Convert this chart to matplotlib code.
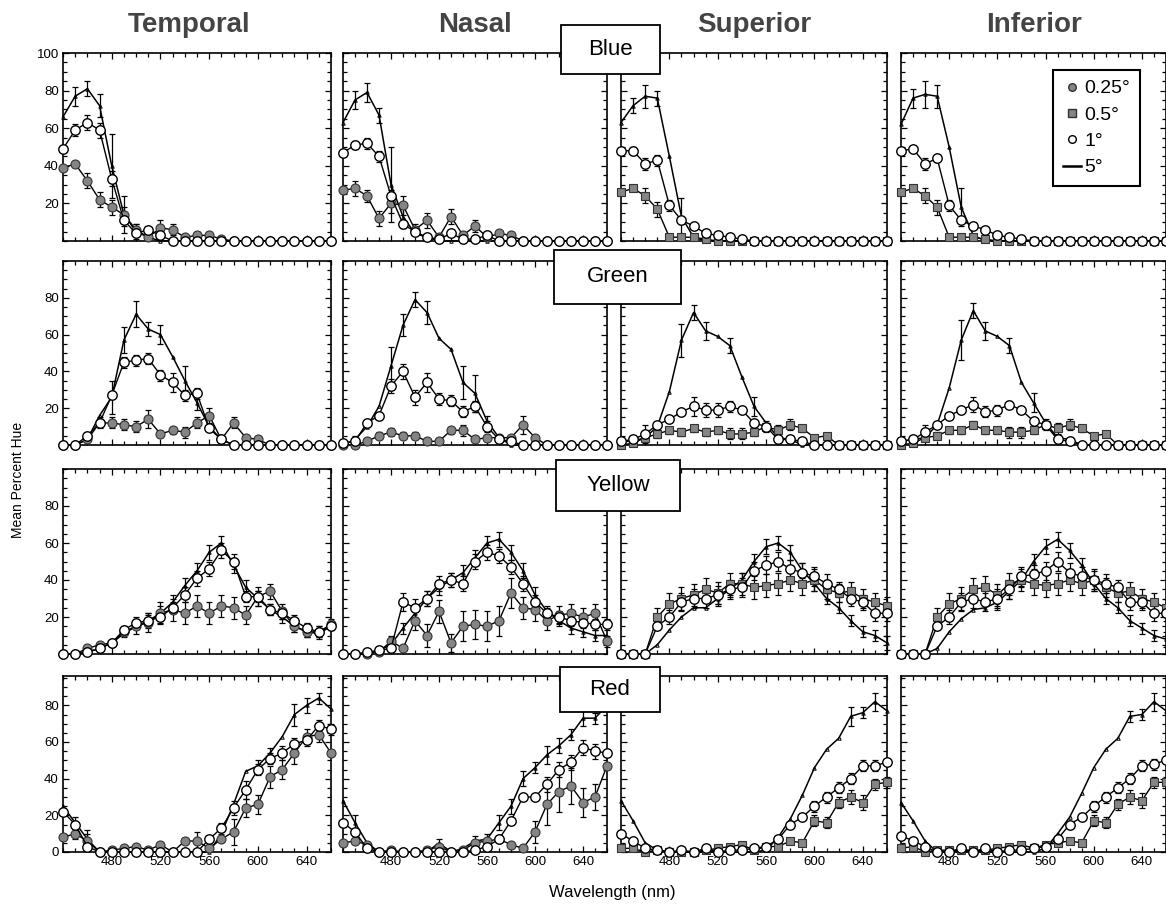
"""Hue scaling panels: mean percent hue vs wavelength for four retinal locations"""

import numpy as np
import matplotlib.pyplot as plt
from matplotlib.lines import Line2D
from matplotlib.patches import Rectangle
from matplotlib.ticker import FixedLocator, MultipleLocator

plt.rcParams['font.family'] = ['Liberation Sans', 'DejaVu Sans']

wavelength = [440, 450, 460, 470, 480, 490, 500, 510, 520, 530, 540, 550,
              560, 570, 580, 590, 600, 610, 620, 630, 640, 650, 660]
regions = ['Temporal', 'Nasal', 'Superior', 'Inferior']
hues = ['Blue', 'Green', 'Yellow', 'Red']
legend_labels = ['0.25°', '0.5°', '1°', '5°']

# ---- Blue ----
blue_temporal_5 = [66, 77, 81, 72, 40, 14, 5, 2, 0, 0, 0, 0, 0, 0, 0, 0, 0, 0, 0, 0, 0, 0, 0]
blue_temporal_5_err = [0, 5, 4, 6, 17, 10, 4, 0, 0, 0, 0, 0, 0, 0, 0, 0, 0, 0, 0, 0, 0, 0, 0]
blue_temporal_1 = [49, 59, 63, 59, 33, 11, 4, 6, 3, 0, 0, 0, 0, 0, 0, 0, 0, 0, 0, 0, 0, 0, 0]
blue_temporal_1_err = [0, 3, 4, 4, 4, 3, 0, 0, 0, 0, 0, 0, 0, 0, 0, 0, 0, 0, 0, 0, 0, 0, 0]
blue_temporal_s = [39, 41, 32, 22, 18, 14, 6, 2, 7, 6, 2, 3, 3, 1, 0, 0, 0, 0, 0, 0, 0, 0, 0]
blue_temporal_s_err = [0, 0, 4, 4, 4, 4, 3, 0, 4, 3, 0, 2, 2, 0, 0, 0, 0, 0, 0, 0, 0, 0, 0]

blue_nasal_5 = [63, 75, 79, 67, 30, 13, 4, 2, 0, 0, 0, 0, 0, 0, 0, 0, 0, 0, 0, 0, 0, 0, 0]
blue_nasal_5_err = [0, 5, 5, 4, 20, 6, 0, 0, 0, 0, 0, 0, 0, 0, 0, 0, 0, 0, 0, 0, 0, 0, 0]
blue_nasal_1 = [47, 51, 52, 45, 24, 9, 5, 2, 1, 4, 1, 1, 3, 0, 0, 0, 0, 0, 0, 0, 0, 0, 0]
blue_nasal_1_err = [0, 2, 3, 3, 3, 0, 0, 0, 0, 0, 0, 0, 0, 0, 0, 0, 0, 0, 0, 0, 0, 0, 0]
blue_nasal_s = [27, 28, 24, 12, 20, 19, 6, 11, 2, 13, 3, 8, 2, 4, 3, 0, 0, 0, 0, 0, 0, 0, 0]
blue_nasal_s_err = [0, 4, 3, 4, 5, 5, 3, 4, 0, 4, 0, 3, 0, 0, 0, 0, 0, 0, 0, 0, 0, 0, 0]

blue_superior_5 = [63, 72, 77, 76, 45, 13, 2, 0, 0, 0, 0, 0, 0, 0, 0, 0, 0, 0, 0, 0, 0, 0, 0]
blue_superior_5_err = [0, 4, 6, 4, 0, 10, 0, 0, 0, 0, 0, 0, 0, 0, 0, 0, 0, 0, 0, 0, 0, 0, 0]
blue_superior_1 = [48, 48, 41, 43, 19, 11, 8, 4, 3, 2, 1, 0, 0, 0, 0, 0, 0, 0, 0, 0, 0, 0, 0]
blue_superior_1_err = [0, 2, 3, 3, 3, 2, 0, 0, 0, 0, 0, 0, 0, 0, 0, 0, 0, 0, 0, 0, 0, 0, 0]
blue_superior_s = [26, 28, 24, 17, 2, 2, 2, 1, 0, 0, 0, 0, 0, 0, 0, 0, 0, 0, 0, 0, 0, 0, 0]
blue_superior_s_err = [0, 0, 4, 4, 0, 0, 0, 0, 0, 0, 0, 0, 0, 0, 0, 0, 0, 0, 0, 0, 0, 0, 0]

blue_inferior_5 = [62, 76, 78, 77, 50, 18, 3, 0, 0, 0, 0, 0, 0, 0, 0, 0, 0, 0, 0, 0, 0, 0, 0]
blue_inferior_5_err = [0, 5, 7, 6, 0, 10, 0, 0, 0, 0, 0, 0, 0, 0, 0, 0, 0, 0, 0, 0, 0, 0, 0]
blue_inferior_1 = [48, 49, 41, 44, 19, 11, 8, 6, 3, 2, 1, 0, 0, 0, 0, 0, 0, 0, 0, 0, 0, 0, 0]
blue_inferior_1_err = [0, 0, 3, 2, 3, 0, 0, 0, 0, 0, 0, 0, 0, 0, 0, 0, 0, 0, 0, 0, 0, 0, 0]
blue_inferior_s = [26, 28, 24, 18, 2, 2, 2, 1, 0, 0, 0, 0, 0, 0, 0, 0, 0, 0, 0, 0, 0, 0, 0]
blue_inferior_s_err = [0, 0, 4, 4, 0, 0, 0, 0, 0, 0, 0, 0, 0, 0, 0, 0, 0, 0, 0, 0, 0, 0, 0]

# ---- Green ----
green_temporal_5 = [0, 0, 3, 16, 26, 57, 71, 63, 60, 48, 35, 23, 10, 3, 0, 0, 0, 0, 0, 0, 0, 0, 0]
green_temporal_5_err = [0, 0, 0, 0, 9, 7, 7, 4, 5, 0, 8, 4, 0, 0, 0, 0, 0, 0, 0, 0, 0, 0, 0]
green_temporal_1 = [0, 0, 5, 12, 27, 45, 46, 47, 38, 34, 27, 28, 9, 3, 0, 0, 0, 0, 0, 0, 0, 0, 0]
green_temporal_1_err = [0, 0, 0, 0, 0, 3, 3, 3, 3, 5, 3, 3, 0, 0, 0, 0, 0, 0, 0, 0, 0, 0, 0]
green_temporal_s = [0, 0, 3, 12, 12, 11, 10, 14, 6, 8, 7, 12, 16, 3, 12, 4, 3, 0, 0, 0, 0, 0, 0]
green_temporal_s_err = [0, 0, 0, 3, 3, 3, 3, 5, 0, 2, 3, 3, 4, 0, 3, 0, 0, 0, 0, 0, 0, 0, 0]

green_nasal_5 = [0, 3, 10, 21, 43, 65, 79, 72, 58, 52, 34, 28, 13, 4, 0, 0, 0, 0, 0, 0, 0, 0, 0]
green_nasal_5_err = [0, 2, 0, 0, 10, 6, 4, 6, 0, 0, 9, 10, 3, 0, 0, 0, 0, 0, 0, 0, 0, 0, 0]
green_nasal_1 = [1, 2, 12, 16, 32, 40, 26, 34, 25, 24, 18, 21, 10, 3, 2, 0, 0, 0, 0, 0, 0, 0, 0]
green_nasal_1_err = [0, 0, 0, 0, 4, 4, 4, 5, 3, 3, 3, 3, 3, 0, 0, 0, 0, 0, 0, 0, 0, 0, 0]
green_nasal_s = [0, 0, 2, 5, 7, 5, 5, 2, 2, 8, 8, 3, 4, 4, 4, 11, 4, 0, 0, 0, 0, 0, 0]
green_nasal_s_err = [0, 0, 0, 2, 2, 2, 2, 0, 0, 2, 3, 0, 0, 0, 0, 5, 0, 0, 0, 0, 0, 0, 0]

green_superior_5 = [2, 2, 4, 10, 29, 57, 72, 62, 59, 54, 37, 21, 12, 4, 3, 0, 0, 0, 0, 0, 0, 0, 0]
green_superior_5_err = [0, 0, 0, 0, 0, 9, 4, 5, 0, 4, 0, 5, 0, 0, 0, 0, 0, 0, 0, 0, 0, 0, 0]
green_superior_1 = [2, 3, 6, 11, 14, 18, 21, 19, 19, 21, 19, 12, 10, 3, 3, 2, 0, 0, 0, 0, 0, 0, 0]
green_superior_1_err = [0, 0, 5, 0, 0, 0, 5, 4, 4, 3, 0, 0, 0, 0, 0, 0, 0, 0, 0, 0, 0, 0, 0]
green_superior_s = [0, 1, 4, 6, 8, 7, 9, 7, 8, 6, 6, 7, 10, 8, 11, 9, 4, 5, 0, 0, 0, 0, 0]
green_superior_s_err = [0, 0, 0, 2, 2, 2, 2, 2, 2, 3, 3, 2, 3, 3, 3, 2, 0, 0, 0, 0, 0, 0, 0]

green_inferior_5 = [2, 3, 4, 11, 31, 57, 73, 62, 59, 54, 34, 23, 12, 4, 3, 0, 0, 0, 0, 0, 0, 0, 0]
green_inferior_5_err = [0, 0, 0, 0, 0, 11, 4, 5, 0, 4, 0, 5, 0, 0, 0, 0, 0, 0, 0, 0, 0, 0, 0]
green_inferior_1 = [2, 3, 7, 11, 16, 19, 22, 18, 19, 22, 19, 13, 11, 3, 2, 0, 0, 0, 0, 0, 0, 0, 0]
green_inferior_1_err = [0, 0, 4, 0, 0, 0, 4, 3, 3, 2, 0, 0, 0, 0, 0, 0, 0, 0, 0, 0, 0, 0, 0]
green_inferior_s = [0, 1, 4, 5, 8, 8, 11, 8, 8, 7, 7, 8, 11, 9, 11, 9, 5, 6, 0, 0, 0, 0, 0]
green_inferior_s_err = [0, 0, 0, 2, 2, 2, 2, 2, 2, 3, 3, 2, 3, 3, 3, 2, 0, 0, 0, 0, 0, 0, 0]

# ---- Yellow ----
yellow_temporal_5 = [0, 0, 1, 3, 6, 11, 15, 18, 22, 28, 37, 45, 55, 60, 48, 36, 30, 24, 20, 15, 12, 11, 15]
yellow_temporal_5_err = [0, 0, 0, 0, 0, 0, 0, 4, 4, 4, 4, 4, 4, 4, 4, 4, 4, 3, 3, 3, 3, 3, 0]
yellow_temporal_1 = [0, 0, 1, 3, 6, 13, 17, 18, 20, 25, 32, 41, 46, 56, 50, 31, 31, 24, 22, 18, 14, 12, 15]
yellow_temporal_1_err = [0, 0, 0, 0, 0, 0, 3, 3, 3, 3, 4, 4, 4, 4, 4, 3, 3, 3, 3, 3, 3, 3, 0]
yellow_temporal_s = [0, 0, 3, 5, 6, 12, 15, 17, 22, 24, 22, 26, 22, 26, 25, 21, 31, 34, 23, 15, 12, 12, 16]
yellow_temporal_s_err = [0, 0, 0, 0, 0, 3, 4, 5, 6, 6, 6, 6, 6, 6, 6, 5, 5, 4, 4, 3, 3, 3, 3]

yellow_nasal_5 = [0, 0, 0, 2, 5, 14, 22, 30, 36, 40, 44, 52, 60, 62, 55, 45, 32, 23, 18, 14, 12, 10, 10]
yellow_nasal_5_err = [0, 0, 0, 0, 0, 3, 4, 4, 4, 4, 4, 4, 4, 4, 4, 4, 4, 3, 3, 3, 3, 3, 0]
yellow_nasal_1 = [0, 0, 1, 2, 3, 28, 25, 30, 38, 40, 38, 50, 55, 53, 47, 38, 28, 22, 20, 18, 17, 16, 16]
yellow_nasal_1_err = [0, 0, 0, 0, 0, 5, 5, 4, 4, 4, 4, 4, 4, 4, 4, 4, 4, 3, 3, 3, 3, 3, 3]
yellow_nasal_s = [0, 0, 0, 1, 7, 3, 18, 10, 23, 6, 15, 16, 15, 18, 33, 25, 24, 18, 21, 22, 20, 22, 7]
yellow_nasal_s_err = [0, 0, 0, 0, 3, 0, 5, 6, 6, 5, 8, 8, 8, 8, 8, 6, 6, 5, 5, 5, 5, 5, 3]

yellow_superior_5 = [0, 0, 0, 5, 13, 20, 25, 25, 30, 35, 40, 50, 58, 60, 55, 45, 38, 30, 25, 18, 12, 10, 6]
yellow_superior_5_err = [0, 0, 0, 0, 0, 0, 0, 0, 4, 4, 4, 4, 4, 4, 4, 4, 4, 3, 3, 3, 3, 3, 4]
yellow_superior_1 = [0, 0, 0, 15, 20, 28, 30, 30, 32, 35, 36, 45, 48, 50, 46, 44, 42, 38, 35, 30, 28, 22, 22]
yellow_superior_1_err = [0, 0, 0, 0, 4, 5, 5, 5, 5, 5, 5, 5, 5, 5, 5, 5, 5, 5, 4, 4, 4, 4, 4]
yellow_superior_s = [0, 0, 0, 20, 27, 30, 32, 35, 33, 38, 38, 36, 37, 38, 40, 38, 40, 35, 33, 34, 30, 28, 26]
yellow_superior_s_err = [0, 0, 0, 5, 6, 6, 6, 6, 6, 6, 6, 6, 6, 6, 6, 6, 6, 5, 5, 5, 5, 5, 5]

yellow_inferior_5 = [0, 0, 0, 3, 12, 19, 24, 25, 28, 34, 40, 50, 58, 62, 56, 48, 38, 30, 25, 18, 14, 10, 8]
yellow_inferior_5_err = [0, 0, 0, 0, 0, 0, 0, 0, 4, 4, 4, 4, 4, 4, 4, 4, 4, 3, 3, 3, 3, 3, 4]
yellow_inferior_1 = [0, 0, 0, 15, 20, 28, 30, 28, 30, 35, 42, 43, 45, 50, 44, 42, 40, 38, 36, 28, 28, 22, 22]
yellow_inferior_1_err = [0, 0, 0, 0, 4, 5, 5, 5, 5, 5, 5, 5, 5, 5, 5, 5, 5, 5, 4, 4, 4, 4, 4]
yellow_inferior_s = [0, 0, 0, 20, 27, 30, 35, 36, 32, 38, 40, 38, 37, 38, 40, 38, 40, 36, 33, 34, 30, 28, 25]
yellow_inferior_s_err = [0, 0, 0, 5, 6, 6, 6, 6, 6, 6, 6, 6, 6, 6, 6, 6, 6, 5, 5, 5, 5, 5, 5]

# ---- Red ----
red_temporal_5 = [25, 16, 7, 0, 0, 0, 0, 0, 0, 0, 0, 0, 0, 10, 26, 44, 47, 54, 63, 75, 80, 84, 78]
red_temporal_5_err = [0, 3, 5, 0, 0, 0, 0, 0, 0, 0, 0, 0, 0, 4, 0, 0, 3, 3, 0, 6, 4, 3, 0]
red_temporal_1 = [22, 15, 3, 0, 0, 0, 0, 0, 0, 0, 0, 0, 7, 13, 24, 34, 45, 51, 54, 59, 61, 69, 67]
red_temporal_1_err = [0, 0, 0, 0, 0, 0, 0, 0, 0, 0, 0, 0, 0, 3, 4, 5, 3, 3, 4, 3, 3, 3, 3]
red_temporal_s = [8, 10, 6, 0, 1, 2, 3, 1, 4, 0, 6, 6, 2, 7, 11, 24, 26, 41, 45, 54, 63, 64, 54]
red_temporal_s_err = [0, 3, 4, 0, 0, 0, 0, 0, 0, 0, 0, 5, 0, 0, 7, 5, 5, 6, 5, 6, 4, 4, 0]

red_nasal_5 = [28, 16, 5, 0, 0, 0, 0, 0, 5, 0, 2, 6, 7, 16, 25, 40, 46, 53, 58, 64, 73, 73, 80]
red_nasal_5_err = [0, 4, 0, 0, 0, 0, 0, 0, 2, 0, 0, 3, 3, 4, 4, 4, 3, 5, 4, 3, 4, 3, 0]
red_nasal_1 = [16, 11, 2, 0, 0, 0, 0, 0, 0, 0, 0, 1, 3, 7, 17, 30, 30, 37, 45, 49, 57, 55, 54]
red_nasal_1_err = [0, 0, 0, 0, 0, 0, 0, 0, 0, 0, 0, 0, 0, 0, 0, 0, 0, 4, 4, 4, 4, 4, 0]
red_nasal_s = [5, 6, 4, 0, 1, 0, 0, 1, 3, 0, 1, 5, 6, 7, 4, 2, 11, 26, 33, 36, 27, 30, 47]
red_nasal_s_err = [0, 0, 0, 0, 0, 0, 0, 0, 0, 0, 0, 0, 0, 0, 0, 0, 6, 11, 11, 10, 8, 7, 0]

red_superior_5 = [28, 17, 5, 1, 0, 0, 0, 0, 0, 0, 0, 0, 1, 8, 18, 31, 46, 56, 62, 74, 76, 82, 77]
red_superior_5_err = [0, 0, 0, 0, 0, 0, 0, 0, 0, 0, 0, 0, 0, 0, 0, 0, 0, 0, 0, 5, 3, 5, 0]
red_superior_1 = [10, 6, 2, 1, 0, 1, 0, 2, 0, 1, 1, 2, 3, 7, 15, 19, 25, 30, 35, 40, 47, 47, 49]
red_superior_1_err = [0, 0, 0, 0, 0, 0, 0, 0, 0, 0, 0, 0, 0, 0, 0, 0, 3, 3, 3, 3, 3, 3, 0]
red_superior_s = [2, 2, 0, 1, 0, 0, 0, 1, 2, 3, 4, 1, 3, 3, 6, 5, 17, 16, 27, 30, 27, 37, 38]
red_superior_s_err = [0, 0, 0, 0, 0, 0, 0, 0, 0, 0, 0, 0, 0, 0, 0, 0, 3, 3, 3, 4, 4, 3, 3]

red_inferior_5 = [27, 17, 6, 0, 0, 0, 0, 0, 0, 0, 0, 0, 2, 10, 19, 32, 46, 56, 62, 74, 75, 82, 77]
red_inferior_5_err = [0, 0, 0, 0, 0, 0, 0, 0, 0, 0, 0, 0, 0, 0, 0, 0, 0, 0, 0, 3, 3, 5, 0]
red_inferior_1 = [9, 6, 3, 0, 0, 2, 0, 2, 0, 1, 1, 2, 3, 7, 15, 19, 25, 30, 35, 40, 47, 48, 50]
red_inferior_1_err = [0, 0, 0, 0, 0, 0, 0, 0, 0, 0, 0, 0, 0, 0, 0, 0, 3, 3, 3, 3, 3, 3, 0]
red_inferior_s = [2, 3, 0, 1, 1, 1, 1, 1, 2, 3, 4, 2, 4, 5, 6, 5, 17, 16, 26, 30, 28, 38, 38]
red_inferior_s_err = [0, 0, 0, 0, 0, 0, 0, 0, 0, 0, 0, 0, 0, 0, 0, 0, 3, 3, 3, 4, 4, 3, 3]

panel_data = {
    ('Blue', 'Temporal'): (blue_temporal_5, blue_temporal_5_err, blue_temporal_1, blue_temporal_1_err, blue_temporal_s, blue_temporal_s_err),
    ('Blue', 'Nasal'): (blue_nasal_5, blue_nasal_5_err, blue_nasal_1, blue_nasal_1_err, blue_nasal_s, blue_nasal_s_err),
    ('Blue', 'Superior'): (blue_superior_5, blue_superior_5_err, blue_superior_1, blue_superior_1_err, blue_superior_s, blue_superior_s_err),
    ('Blue', 'Inferior'): (blue_inferior_5, blue_inferior_5_err, blue_inferior_1, blue_inferior_1_err, blue_inferior_s, blue_inferior_s_err),
    ('Green', 'Temporal'): (green_temporal_5, green_temporal_5_err, green_temporal_1, green_temporal_1_err, green_temporal_s, green_temporal_s_err),
    ('Green', 'Nasal'): (green_nasal_5, green_nasal_5_err, green_nasal_1, green_nasal_1_err, green_nasal_s, green_nasal_s_err),
    ('Green', 'Superior'): (green_superior_5, green_superior_5_err, green_superior_1, green_superior_1_err, green_superior_s, green_superior_s_err),
    ('Green', 'Inferior'): (green_inferior_5, green_inferior_5_err, green_inferior_1, green_inferior_1_err, green_inferior_s, green_inferior_s_err),
    ('Yellow', 'Temporal'): (yellow_temporal_5, yellow_temporal_5_err, yellow_temporal_1, yellow_temporal_1_err, yellow_temporal_s, yellow_temporal_s_err),
    ('Yellow', 'Nasal'): (yellow_nasal_5, yellow_nasal_5_err, yellow_nasal_1, yellow_nasal_1_err, yellow_nasal_s, yellow_nasal_s_err),
    ('Yellow', 'Superior'): (yellow_superior_5, yellow_superior_5_err, yellow_superior_1, yellow_superior_1_err, yellow_superior_s, yellow_superior_s_err),
    ('Yellow', 'Inferior'): (yellow_inferior_5, yellow_inferior_5_err, yellow_inferior_1, yellow_inferior_1_err, yellow_inferior_s, yellow_inferior_s_err),
    ('Red', 'Temporal'): (red_temporal_5, red_temporal_5_err, red_temporal_1, red_temporal_1_err, red_temporal_s, red_temporal_s_err),
    ('Red', 'Nasal'): (red_nasal_5, red_nasal_5_err, red_nasal_1, red_nasal_1_err, red_nasal_s, red_nasal_s_err),
    ('Red', 'Superior'): (red_superior_5, red_superior_5_err, red_superior_1, red_superior_1_err, red_superior_s, red_superior_s_err),
    ('Red', 'Inferior'): (red_inferior_5, red_inferior_5_err, red_inferior_1, red_inferior_1_err, red_inferior_s, red_inferior_s_err),
}

W, H = 1166, 924
GRAY = '#858585'
col_px = [(63, 331), (343, 607), (621, 887), (901, 1166)]
row_px = [(53, 241), (261, 445), (469, 654), (676, 852)]
row_ylim = [(0, 100), (0, 100), (0, 100), (0, 96)]
row_yticks = [[20, 40, 60, 80, 100], [20, 40, 60, 80], [20, 40, 60, 80], [0, 20, 40, 60, 80]]
hue_box_px = [(561, 25, 660, 74), (554, 250, 681, 304), (556, 460, 680, 511), (560, 667, 660, 712)]


def fx(x):
    return x / W


def fy(y):
    return 1 - y / H


def errbars(ax, x, y, e):
    x, y, e = np.asarray(x), np.asarray(y, float), np.asarray(e, float)
    m = e > 0
    if m.any():
        ax.errorbar(x[m], y[m], yerr=e[m], fmt='none', ecolor='k', elinewidth=0.9,
                    capsize=2, capthick=0.9, clip_on=False, zorder=2.5)


def draw_panel(ax, y5, e5, y1, e1, ys, es, small_marker):
    errbars(ax, wavelength, y5, e5)
    ax.plot(wavelength, y5, color='k', lw=1.1, marker='^', ms=2.5, mfc='none',
            mew=0.7, clip_on=False, zorder=3)
    errbars(ax, wavelength, ys, es)
    ax.plot(wavelength, ys, color='k', lw=1.0, marker=small_marker,
            ms=6.5 if small_marker == 'o' else 6, mfc=GRAY, mec='#333333', mew=0.8,
            clip_on=False, zorder=4)
    errbars(ax, wavelength, y1, e1)
    ax.plot(wavelength, y1, color='k', lw=1.0, marker='o', ms=6.8,
            mfc='white', mec='k', mew=1.0, clip_on=False, zorder=5)


fig = plt.figure(figsize=(W / 100, H / 100), dpi=100)

for r, hue in enumerate(hues):
    top, bottom = row_px[r]
    for c, region in enumerate(regions):
        left, right = col_px[c]
        ax = fig.add_axes([fx(left), fy(bottom), (right - left) / W, (bottom - top) / H])
        marker = 'o' if c < 2 else 's'
        draw_panel(ax, *panel_data[(hue, region)], small_marker=marker)
        ax.set_xlim(440, 660)
        ax.set_ylim(*row_ylim[r])
        ax.xaxis.set_major_locator(FixedLocator([480, 520, 560, 600, 640]))
        ax.xaxis.set_minor_locator(MultipleLocator(10))
        ax.yaxis.set_major_locator(FixedLocator(row_yticks[r]))
        ax.yaxis.set_minor_locator(MultipleLocator(5))
        ax.tick_params(which='both', direction='in', top=True, right=True,
                       width=0.9, labelsize=9.5, pad=3)
        ax.tick_params(which='major', length=4)
        ax.tick_params(which='minor', length=3)
        ax.tick_params(labelbottom=(r == 3), labelleft=(c == 0))
        for sp in ax.spines.values():
            sp.set_linewidth(1.2)

        if r == 0 and c == 3:
            handles = [
                Line2D([], [], ls='none', marker='o', ms=5.5, mfc=GRAY, mec='#333333'),
                Line2D([], [], ls='none', marker='s', ms=5.5, mfc=GRAY, mec='#333333'),
                Line2D([], [], ls='none', marker='o', ms=5.5, mfc='white', mec='k'),
                Line2D([], [], color='k', lw=1.8),
            ]
            leg = ax.legend(handles, legend_labels, loc='upper right',
                            bbox_to_anchor=(fx(1140), fy(70)), bbox_transform=fig.transFigure,
                            borderaxespad=0, fontsize=14, handlelength=0.9,
                            handletextpad=0.2, labelspacing=0.45, borderpad=0.5,
                            fancybox=False, framealpha=1, edgecolor='k')
            leg.get_frame().set_linewidth(1.5)

# column titles
for c, region in enumerate(regions):
    left, right = col_px[c]
    fig.text(fx((left + right) / 2 - (8 if c == 0 else 0)), fy(32), region,
             ha='center', va='baseline', fontsize=20, fontweight='bold', color='#444444')

# hue labels in boxes between the middle columns
for hue, (x0, y0, x1, y1) in zip(hues, hue_box_px):
    fig.add_artist(Rectangle((fx(x0), fy(y1)), (x1 - x0) / W, (y1 - y0) / H,
                             transform=fig.transFigure, facecolor='white',
                             edgecolor='k', lw=1.3, zorder=10))
    fig.text(fx((x0 + x1) / 2), fy((y0 + y1) / 2), hue, ha='center', va='center',
             fontsize=16, zorder=11)

fig.text(fx(18), fy(480), 'Mean Percent Hue', rotation=90, ha='center', va='center', fontsize=10)
fig.text(fx(612), fy(893), 'Wavelength (nm)', ha='center', va='center', fontsize=12)

fig.savefig('out.png', dpi=100)
